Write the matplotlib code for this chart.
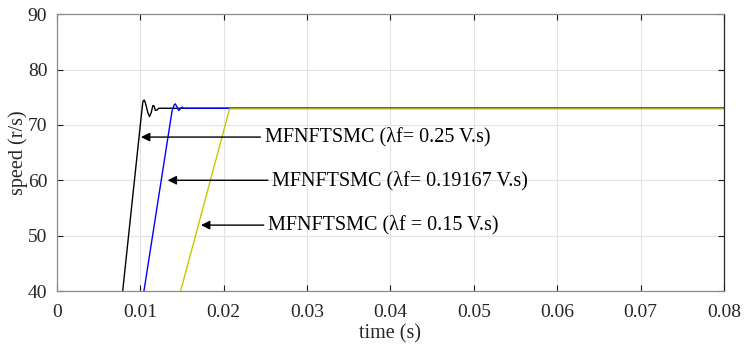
import matplotlib.pyplot as plt

# Hastighetsdata lest av bildet
t_black = [0.0070, 0.00788, 0.0101, 0.0103, 0.01045, 0.0106, 0.0109, 0.0111,
           0.0113, 0.0115, 0.01165, 0.0118, 0.0120, 0.0122, 0.08]
v_black = [28, 40, 71.5, 74.2, 74.5, 74.0, 72.2, 71.5,
           72.2, 73.5, 73.4, 72.6, 72.7, 73.0, 73.0]

t_blue = [0.0100, 0.01043, 0.0138, 0.01405, 0.0142, 0.0144, 0.0146, 0.0148,
          0.0150, 0.0152, 0.08]
v_blue = [34, 40, 72.5, 73.6, 73.8, 73.2, 72.6, 72.9, 73.2, 73.0, 73.0]

t_yellow = [0.0145, 0.01483, 0.0207, 0.08]
v_yellow = [38, 40, 72.9, 72.9]

labels = ["MFNFTSMC (\u03bbf= 0.25 V.s)",
          "MFNFTSMC (\u03bbf= 0.19167 V.s)",
          "MFNFTSMC (\u03bbf = 0.15 V.s)"]
arrow_tips = [(0.01007, 67.8), (0.01327, 60.0), (0.01727, 51.9)]
text_pos = [(0.0249, 67.8), (0.0258, 60.0), (0.0253, 51.9)]

plt.rcParams['font.family'] = ['Liberation Serif', 'DejaVu Serif']

fig = plt.figure(figsize=(7.44, 3.45), dpi=100)
ax = fig.add_axes([0.0766, 0.1565, 0.8965, 0.8025])

ax.plot(t_black, v_black, color='black', lw=1.0)
ax.plot(t_blue, v_blue, color='blue', lw=1.0)
ax.plot(t_yellow, v_yellow, color='#c8c800', lw=1.0)

for lab, tip, pos in zip(labels, arrow_tips, text_pos):
    ax.annotate(lab, xy=tip, xytext=pos, ha='left', va='center', fontsize=14.5,
                arrowprops=dict(arrowstyle='-|>', color='black', lw=1.0,
                                mutation_scale=13, shrinkA=1, shrinkB=0))

ax.set_xlim(0, 0.08)
ax.set_ylim(40, 90)
ax.set_xticks([0, 0.01, 0.02, 0.03, 0.04, 0.05, 0.06, 0.07, 0.08])
ax.set_xticklabels(['0', '0.01', '0.02', '0.03', '0.04', '0.05', '0.06', '0.07', '0.08'])
ax.set_yticks([40, 50, 60, 70, 80, 90])

ax.grid(True, color='#e3e3e3', lw=0.8)
ax.set_axisbelow(True)
ax.tick_params(direction='in', top=True, right=True, labelsize=14, length=4,
               color='#1a1a1a', labelcolor='#262626')
ax.tick_params(axis='x', pad=9)
ax.tick_params(axis='y', pad=7)
for s in ax.spines.values():
    s.set_color('#8a8a8a')
    s.set_linewidth(0.9)
ax.spines['right'].set_color('#262626')

ax.set_xlabel("time (s)", fontsize=14.5, labelpad=2.5, color='#262626')
ax.set_ylabel("speed (r/s)", fontsize=14.5, labelpad=0, color='#262626')

fig.savefig("out.png", dpi=100)
